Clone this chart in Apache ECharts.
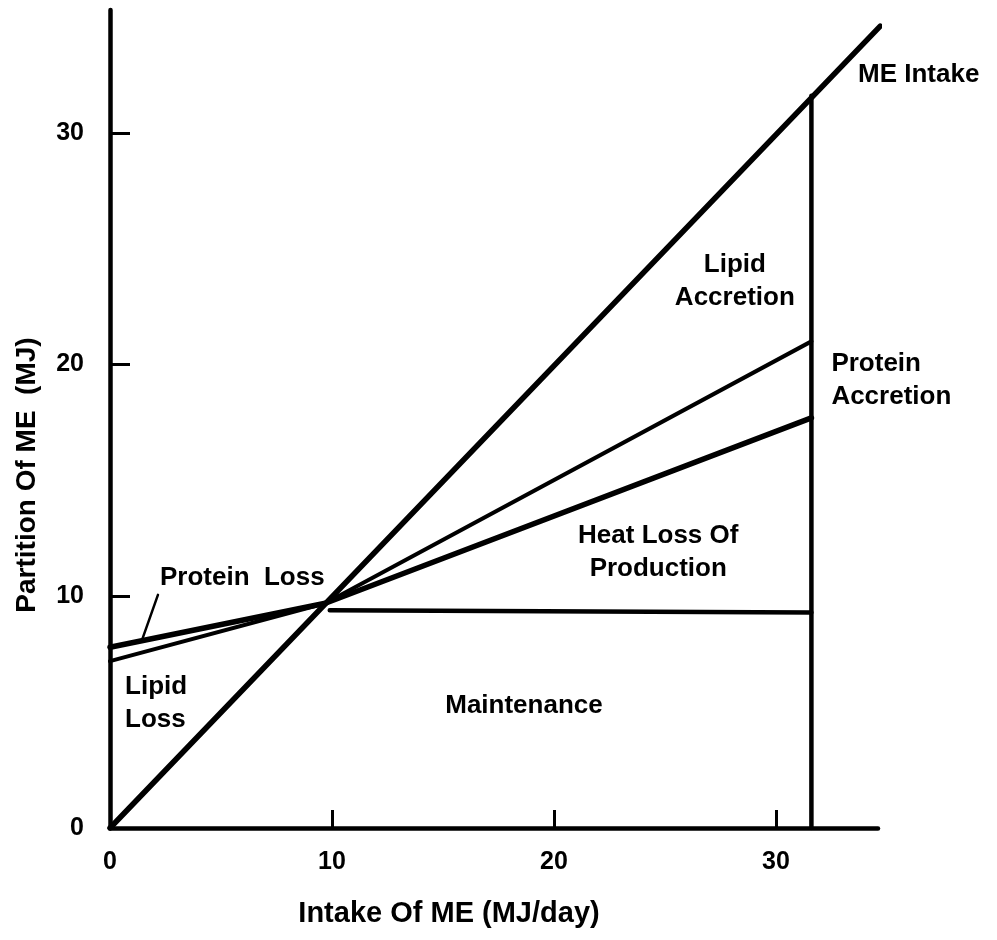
<!DOCTYPE html>
<html>
<head>
<meta charset="utf-8">
<script src="https://cdn.jsdelivr.net/npm/echarts@6/dist/echarts.min.js"></script>
<style>html,body{margin:0;padding:0;background:#fff}#c{width:997px;height:940px}</style>
</head>
<body>
<div id="c"></div>
<script>
// ---- data ----
const xTickValues = [10, 20, 30];
const xLabelValues = [0, 10, 20, 30];
const yTickValues = [10, 20, 30];
const yLabelValues = [0, 10, 20, 30];

const meIntakeX = [0, 34.7];
const meIntakeY = [0, 34.6];

const lipidLossLineX = [0, 9.7, 31.6];
const lipidLossLineY = [7.2, 9.7, 21.0];

const proteinLossLineX = [0, 9.7, 31.6];
const proteinLossLineY = [7.8, 9.7, 17.7];

const maintenanceX = [9.9, 31.6];
const maintenanceY = [9.4, 9.3];

const limitX = [31.6, 31.6];
const limitY = [0, 31.6];

const pointerX = [2.16, 1.44];
const pointerY = [10.06, 8.11];

const annoText = ['ME Intake', 'Lipid\nAccretion', 'Protein\nAccretion', 'Heat Loss Of\nProduction', 'Protein  Loss', 'Lipid\nLoss', 'Maintenance'];
const annoX = [33.7, 28.15, 32.5, 24.7, 2.25, 0.68, 18.65];
const annoY = [32.5, 23.6, 19.3, 11.9, 10.8, 5.4, 5.27];
const annoAlign = ['left', 'center', 'left', 'center', 'left', 'left', 'center'];

const xName = 'Intake Of ME (MJ/day)';
const yName = 'Partition Of ME  (MJ)';

// ---- chart ----
const zip = (xs, ys) => xs.map((x, i) => [x, ys[i]]);
const FONT = '"Liberation Sans", Arial, sans-serif';
const lineSeries = (xs, ys, w) => ({
  type: 'line', data: zip(xs, ys), symbol: 'none', silent: true,
  lineStyle: { color: '#000', width: w, cap: 'round', join: 'round' }, z: 3
});

const chart = echarts.init(document.getElementById('c'), null, { renderer: 'canvas' });
chart.setOption({
  animation: false,
  backgroundColor: '#fff',
  grid: { left: 110, right: 119, top: 10, bottom: 112, containLabel: false },
  xAxis: {
    type: 'value', min: 0, max: 34.6,
    splitLine: { show: false },
    axisLine: { show: true, onZero: false, lineStyle: { color: '#000', width: 4.5 } },
    axisTick: { show: true, inside: true, length: 18, customValues: xTickValues, lineStyle: { color: '#000', width: 3 } },
    axisLabel: { customValues: xLabelValues, margin: 22, color: '#000', fontSize: 25, fontWeight: 'bold', fontFamily: FONT }
  },
  yAxis: {
    type: 'value', min: 0, max: 35.3,
    splitLine: { show: false },
    axisLine: { show: true, onZero: false, lineStyle: { color: '#000', width: 4.5 } },
    axisTick: { show: true, inside: true, length: 20, customValues: yTickValues, lineStyle: { color: '#000', width: 3 } },
    axisLabel: { customValues: yLabelValues, margin: 26, color: '#000', fontSize: 25, fontWeight: 'bold', fontFamily: FONT }
  },
  graphic: [
    { type: 'text', x: 449, y: 914, style: { text: xName, font: 'bold 29px ' + FONT, fill: '#000', textAlign: 'center', textVerticalAlign: 'middle' } },
    { type: 'text', rotation: Math.PI / 2, x: 27, y: 475, style: { text: yName, font: 'bold 28px ' + FONT, fill: '#000', textAlign: 'center', textVerticalAlign: 'middle' } }
  ],
  series: [
    lineSeries(meIntakeX, meIntakeY, 5.5),
    lineSeries(lipidLossLineX, lipidLossLineY, 4),
    lineSeries(proteinLossLineX, proteinLossLineY, 5.5),
    lineSeries(maintenanceX, maintenanceY, 4.5),
    lineSeries(limitX, limitY, 4.5),
    lineSeries(pointerX, pointerY, 2.5),
    {
      type: 'scatter', symbolSize: 0, silent: true,
      itemStyle: { opacity: 1 },
      data: annoText.map((t, i) => ({
        value: [annoX[i], annoY[i]],
        label: { show: true, position: 'inside', formatter: t, align: annoAlign[i], verticalAlign: 'middle',
                 color: '#000', opacity: 1, fontSize: 26, fontWeight: 'bold', fontFamily: FONT, lineHeight: 33 }
      }))
    }
  ]
});
</script>
</body>
</html>
